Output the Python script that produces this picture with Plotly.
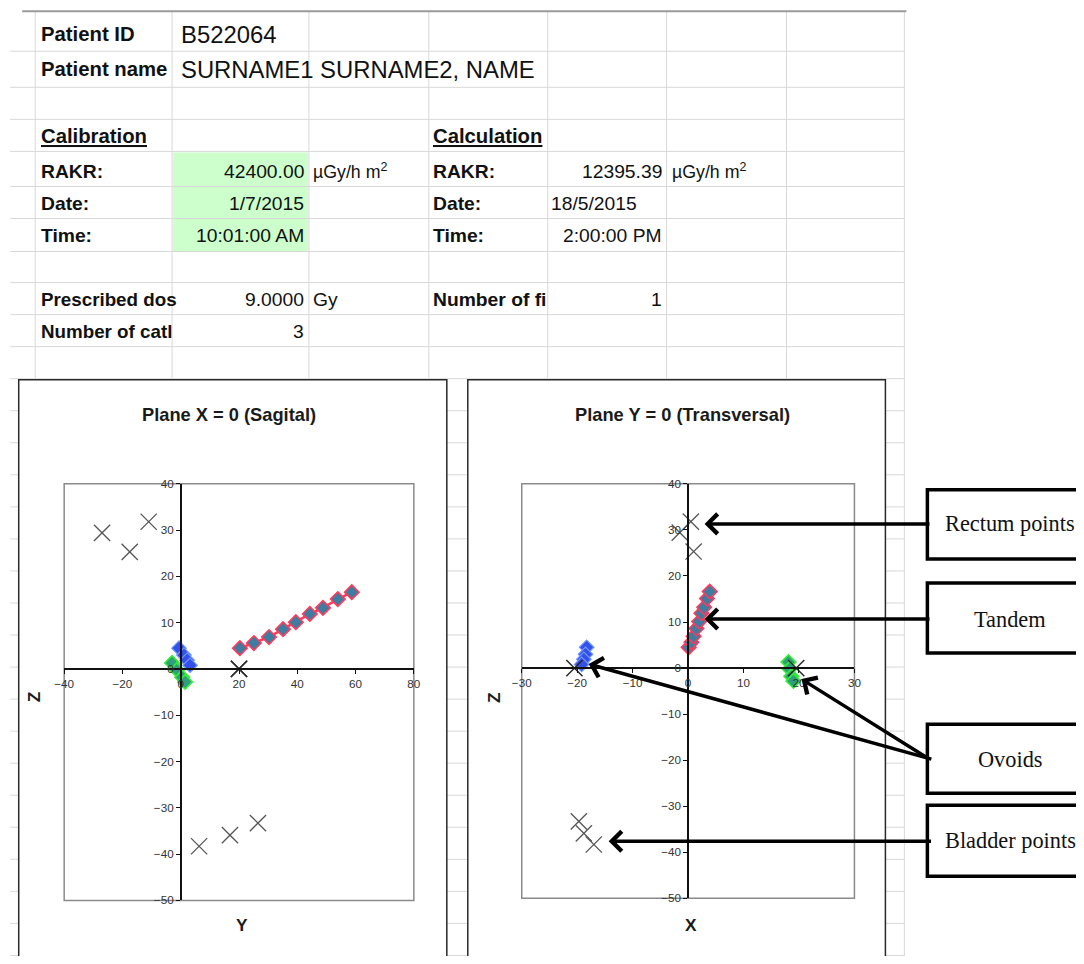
import plotly.graph_objects as go

W, H = 1084, 964
OFF = 8                      # default page margin of the html body
FW, FH = W - 2 * OFF, H - 2 * OFF
# measured from earlier renders: picture = 7.9 + 0.985 * page coordinate
K, SHIFT = 0.985, 7.9

# ---------------- data (X, Y, Z coordinates in mm) ----------------
tandem_x = [0.1, 0.6, 1.0, 1.5, 2.0, 2.4, 2.9, 3.4, 3.9]
tandem_y = [20.3, 25.1, 30.3, 35.1, 39.5, 44.3, 48.8, 53.9, 58.7]
tandem_z = [4.5, 5.6, 6.9, 8.6, 10.1, 11.9, 13.2, 15.1, 16.6]

ovoid_r_x = [-18.3, -18.5, -18.8, -19.2]
ovoid_r_y = [-0.6, 1.1, 2.2, 3.2]
ovoid_r_z = [4.5, 3.0, 1.9, 0.8]

ovoid_l_x = [18.1, 18.3, 18.6, 19.0]
ovoid_l_y = [-3.0, -1.3, 0.5, 1.5]
ovoid_l_z = [1.3, -0.2, -1.8, -2.8]

rectum_x = [-1.5, 1.0, 0.5]
rectum_y = [-27.0, -17.5, -11.0]
rectum_z = [29.4, 25.3, 31.8]

bladder_x = [-17.0, -18.8, -19.7]
bladder_y = [6.3, 16.9, 26.5]
bladder_z = [-38.3, -35.9, -33.3]

pointA_x = [-20.5, 19.5]
pointA_y = [20.0, 20.0]
pointA_z = [0.0, 0.0]

sag_title = "Plane X = 0 (Sagital)"
tra_title = "Plane Y = 0 (Transversal)"
sag_range_h = [-40, 80]
tra_range_h = [-30, 30]
z_range = [-50, 40]

labels = ["Rectum points", "Tandem", "Ovoids", "Bladder points"]

# spreadsheet cell texts
sheet_rows = [
    ("Patient ID", "B522064"),
    ("Patient name", "SURNAME1 SURNAME2, NAME"),
]
calib = [("RAKR:", "42400.00", "µGy/h m<sup>2</sup>"), ("Date:", "1/7/2015", ""), ("Time:", "10:01:00 AM", "")]
calc = [("RAKR:", "12395.39", "µGy/h m<sup>2</sup>"), ("Date:", "18/5/2015", ""), ("Time:", "2:00:00 PM", "")]


# ---------------- helpers (picture pixels -> paper) ----------------
def fx(r):
    return (r - SHIFT) / K - OFF


def px(x):
    return fx(x) / FW


def py(y):
    return 1 - fx(y) / FH


def sz(s):
    return s / K


FN = "Liberation Sans, Arial, sans-serif"
FS = "Liberation Serif, Times New Roman, serif"

fig = go.Figure()
shapes = []
annos = []

# ---------------- spreadsheet grid ----------------
GRID = "#D8D8D8"
row_lines = [52, 88, 120, 152, 187, 219, 252, 283, 315, 347]
y = 347
while y + 32 < H:
    y += 32
    row_lines.append(y)
col_lines = [33, 170, 307, 427, 546, 665, 785, 903]

shapes.append(dict(type="rect", xref="paper", yref="paper", x0=px(171), x1=px(306), y0=py(252), y1=py(153),
                   fillcolor="#CCFFCC", line=dict(width=0), layer="below"))
for r in row_lines:
    shapes.append(dict(type="line", xref="paper", yref="paper", x0=px(8), x1=px(903), y0=py(r), y1=py(r),
                       line=dict(color=GRID, width=1), layer="below"))
for c in col_lines:
    shapes.append(dict(type="line", xref="paper", yref="paper", x0=px(c), x1=px(c), y0=py(12), y1=py(H + 20),
                       line=dict(color=GRID, width=1), layer="below"))
shapes.append(dict(type="line", xref="paper", yref="paper", x0=px(20), x1=px(905), y0=py(12), y1=py(12),
                   line=dict(color="#9A9A9A", width=2), layer="below"))

# chart areas
for x0, x1 in [(16.5, 445), (466, 884)]:
    shapes.append(dict(type="rect", xref="paper", yref="paper", x0=px(x0), x1=px(x1), y0=py(H + 40), y1=py(380),
                       fillcolor="white", line=dict(color="#2A2A2A", width=1.5), layer="below"))


def cell(x, y, text, size, anchor="left", color="#111"):
    annos.append(dict(x=px(x), y=py(y), xref="paper", yref="paper", text=text, showarrow=False,
                      xanchor=anchor, yanchor="middle", font=dict(family=FN, size=sz(size), color=color)))


LS = 19  # label size
VS = 19  # value size
cell(37, 35, "<b>%s</b>" % sheet_rows[0][0], LS + 1)
cell(177, 35, sheet_rows[0][1], 23.5)
cell(37, 70, "<b>%s</b>" % sheet_rows[1][0], LS + 1)
cell(177, 70, sheet_rows[1][1], 23.5)
cell(37, 137, "<b><u>Calibration</u></b>", LS + 1)
cell(429, 137, "<b><u>Calculation</u></b>", LS + 1)
for i, yy in enumerate([172, 204, 236]):
    lab, val, unit = calib[i]
    cell(37, yy, "<b>%s</b>" % lab, LS)
    cell(304, yy, val, VS, "right")
    if unit:
        cell(309, yy, unit, 17.5)
    lab, val, unit = calc[i]
    cell(429, yy, "<b>%s</b>" % lab, LS)
    if lab == "Date:":
        cell(547, yy, val, VS)
    else:
        cell(662, yy, val, VS, "right")
    if unit:
        cell(668, yy, unit, 17.5)
cell(37, 300, "<b>Prescribed dos</b>", LS - 0.5)
cell(304, 300, "9.0000", VS, "right")
cell(309, 300, "Gy", VS)
cell(429, 300, "<b>Number of fi</b>", LS)
cell(662, 300, "1", VS, "right")
cell(37, 332, "<b>Number of catl</b>", LS - 0.5)
cell(304, 332, "3", VS, "right")

# ---------------- charts ----------------
charts = [
    dict(ax="x", ay="y", px0=62, px1=412, py0=484, py1=900, hr=sag_range_h, dt=20, title=sag_title,
         tx=227, hlabel="Y", hx=240, zx=32, h="y"),
    dict(ax="x2", ay="y2", px0=520, px1=853, py0=484, py1=898, hr=tra_range_h, dt=10, title=tra_title,
         tx=681, hlabel="X", hx=689, zx=492, h="x"),
]

series = [
    dict(name="Tandem", x=tandem_x, y=tandem_y, z=tandem_z, mode="lines+markers",
         marker=dict(symbol="diamond", size=sz(11), color="#3E7DA0", line=dict(color="#FF3A5C", width=1.6)),
         line=dict(color="#FF3A5C", width=2.5)),
    dict(name="Ovoid R", x=ovoid_r_x, y=ovoid_r_y, z=ovoid_r_z, mode="lines+markers",
         marker=dict(symbol="diamond", size=sz(11), color="#3350E8", line=dict(color="#6F96FF", width=1.2)),
         line=dict(color="#5577FF", width=2)),
    dict(name="Ovoid L", x=ovoid_l_x, y=ovoid_l_y, z=ovoid_l_z, mode="lines+markers",
         marker=dict(symbol="diamond", size=sz(11), color="#2F9E7A", line=dict(color="#33EE33", width=1.6)),
         line=dict(color="#33DD33", width=2.5)),
    dict(name="Rectum", x=rectum_x, y=rectum_y, z=rectum_z, mode="markers",
         marker=dict(symbol="x-thin", size=sz(16), line=dict(color="#555555", width=1.3))),
    dict(name="Bladder", x=bladder_x, y=bladder_y, z=bladder_z, mode="markers",
         marker=dict(symbol="x-thin", size=sz(16), line=dict(color="#555555", width=1.3))),
    dict(name="Point A", x=pointA_x, y=pointA_y, z=pointA_z, mode="markers",
         marker=dict(symbol="x-thin", size=sz(16), line=dict(color="#2A2A2A", width=1.5))),
]

for i, ch in enumerate(charts):
    for s in series:
        kw = dict(mode=s["mode"], marker=s["marker"], name=s["name"], showlegend=False,
                  xaxis=ch["ax"], yaxis=ch["ay"], cliponaxis=False)
        if "line" in s:
            kw["line"] = s["line"]
        fig.add_trace(go.Scatter(x=s[ch["h"]], y=s["z"], **kw))

    hr = ch["hr"]
    x_zero_px = ch["px0"] + (0 - hr[0]) / (hr[1] - hr[0]) * (ch["px1"] - ch["px0"])
    y_zero_px = ch["py0"] + (z_range[1] - 0) / (z_range[1] - z_range[0]) * (ch["py1"] - ch["py0"])
    tick = dict(family=FN, size=sz(11.5), color="#333")
    xa = dict(domain=[px(ch["px0"]), px(ch["px1"])], range=hr, anchor="free", position=py(y_zero_px),
              dtick=ch["dt"], tick0=0, ticks="outside", ticklen=4, tickcolor="#111", showline=True,
              linecolor="#111", linewidth=1.5, showgrid=False, zeroline=False, tickfont=tick, fixedrange=True)
    ya = dict(domain=[py(ch["py1"]), py(ch["py0"])], range=z_range, anchor="free", position=px(x_zero_px),
              dtick=10, tick0=0, ticks="outside", ticklen=4, tickcolor="#111", showline=True,
              linecolor="#111", linewidth=1.5, showgrid=False, zeroline=False, tickfont=tick, fixedrange=True)
    suffix = "" if i == 0 else "2"
    fig.update_layout(**{"xaxis" + suffix: xa, "yaxis" + suffix: ya})
    shapes.append(dict(type="rect", xref="paper", yref="paper", x0=px(ch["px0"]), x1=px(ch["px1"]),
                       y0=py(ch["py1"]), y1=py(ch["py0"]), line=dict(color="#8A8A8A", width=1.5),
                       fillcolor="rgba(0,0,0,0)", layer="below"))
    annos.append(dict(x=px(ch["tx"]), y=py(415), xref="paper", yref="paper", text="<b>%s</b>" % ch["title"],
                      showarrow=False, xanchor="center", yanchor="middle",
                      font=dict(family=FN, size=sz(18), color="#1A1A1A")))
    annos.append(dict(x=px(ch["hx"]), y=py(925), xref="paper", yref="paper", text="<b>%s</b>" % ch["hlabel"],
                      showarrow=False, xanchor="center", yanchor="middle",
                      font=dict(family=FN, size=sz(17), color="#1A1A1A")))
    annos.append(dict(x=px(ch["zx"]), y=py(697), xref="paper", yref="paper", text="<b>Z</b>", textangle=-90,
                      showarrow=False, xanchor="center", yanchor="middle",
                      font=dict(family=FN, size=sz(17), color="#1A1A1A")))

# ---------------- label boxes and arrows ----------------
boxes = [(490, 559, 524), (583, 653, 619), (724, 793, 759), (805, 876, 840)]
for (t, b, cy), lab in zip(boxes, labels):
    shapes.append(dict(type="rect", xref="paper", yref="paper", x0=px(926), x1=px(1120), y0=py(b), y1=py(t),
                       fillcolor="white", line=dict(color="black", width=3.5), layer="above"))
    annos.append(dict(x=px(1009), y=py(cy), xref="paper", yref="paper", text=lab, showarrow=False,
                      xanchor="center", yanchor="middle", font=dict(family=FS, size=sz(22), color="#111")))

arrows = [((926, 524), (703, 524)), ((926, 619), (703, 619)), ((926, 758), (587, 664)),
          ((926, 758), (800, 679)), ((926, 841), (607, 841))]
for (tx, ty), (hx, hy) in arrows:
    annos.append(dict(x=px(hx), y=py(hy), xref="paper", yref="paper", text="", showarrow=True,
                      ax=(tx - hx) / K, ay=(ty - hy) / K, axref="pixel", ayref="pixel", arrowhead=4,
                      arrowsize=1.1, arrowwidth=3.5, arrowcolor="black", standoff=0, startstandoff=0))

fig.update_layout(width=FW, height=FH, margin=dict(l=0, r=0, t=0, b=0), paper_bgcolor="white",
                  plot_bgcolor="rgba(0,0,0,0)", shapes=shapes, annotations=annos, showlegend=False)

fig.write_html("out.html", config={"displayModeBar": False})
